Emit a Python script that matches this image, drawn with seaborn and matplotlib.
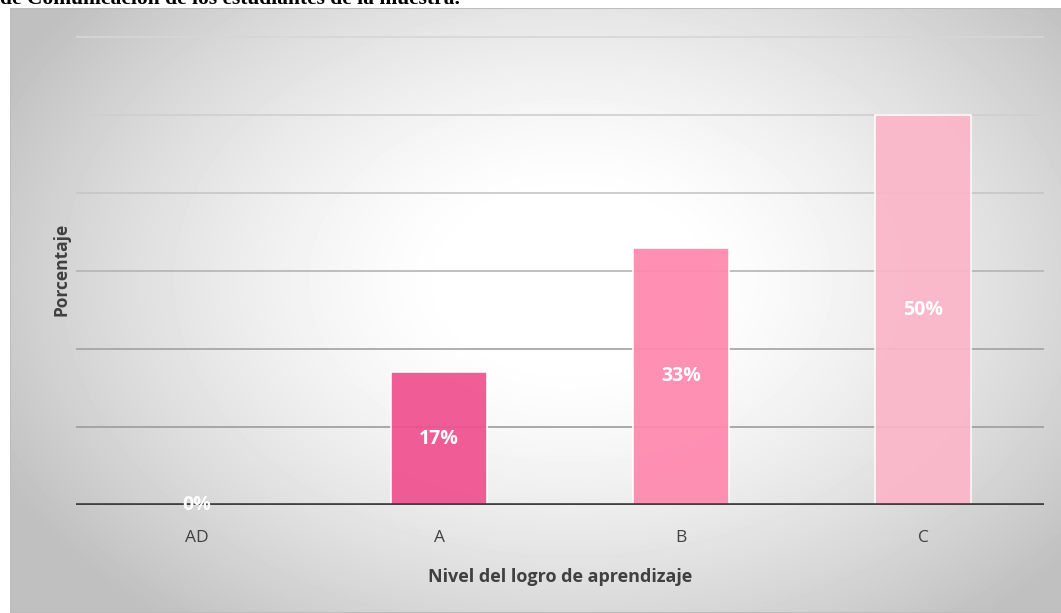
import numpy as np
import pandas as pd
import matplotlib
matplotlib.use("Agg")
import matplotlib.pyplot as plt
import seaborn as sns
from matplotlib.patches import Rectangle

# data
niveles = ["AD", "A", "B", "C"]
porcentajes = [0, 17, 33, 50]
etiquetas = ["0%", "17%", "33%", "50%"]
colores = ["#F0518F", "#F0518F", "#FF88AF", "#FBB6C9"]
y_ticks = [10, 20, 30, 40, 50, 60]
grid_colores = ["#9c9c9c", "#a2a2a2", "#b4b4b4", "#c6c6c6", "#cfcfcf", "#d6d6d6"]

titulo = "de Comunicación de los estudiantes de la muestra."

sns.set_style("white")
plt.rcParams["font.family"] = ["Open Sans", "DejaVu Sans"]

W, H = 1061, 613
fig = plt.figure(figsize=(W / 100, H / 100), dpi=100)
fig.patch.set_facecolor("white")

# radial grey-to-white background of the chart frame
bg = fig.add_axes([10 / W, 0, 1 - 10 / W, (H - 8) / H], zorder=0)
yy, xx = np.mgrid[8:H, 10:W]
r = np.sqrt(((xx - 570) / 620.0) ** 2 + ((yy - 280) / 430.0) ** 2)
t = np.clip((r - 0.18) / 0.85, 0, 1) ** 1.4
val = 1 - 0.25 * t
bg.imshow(val, cmap="gray", vmin=0, vmax=1, aspect="auto",
          extent=[0, 1, 0, 1], interpolation="bilinear")
bg.add_patch(Rectangle((0, 0), 1.2, 1, transform=bg.transAxes, fill=False,
                       edgecolor="#bdbdbd", lw=1.5))
bg.set_axis_off()

# main plot area (pixel box of the reference)
x0, x1 = 76, 1044
y_base, y_top = 505, 30
ax = fig.add_axes([x0 / W, 1 - y_base / H, (x1 - x0) / W, (y_base - y_top) / H], zorder=1)
ax.patch.set_alpha(0)

df = pd.DataFrame({"nivel": niveles, "pct": porcentajes})
sns.barplot(data=df, x="nivel", y="pct", hue="nivel", palette=colores,
            width=0.4, saturation=1, legend=False, ax=ax, zorder=3)
for p in ax.patches:
    p.set_alpha(0.93)
    p.set_edgecolor((1, 1, 1, 0.3))
    p.set_linewidth(1.2)

ax.set_xlim(-0.5, 3.5)
ax.set_ylim(0, (y_base - y_top) / 7.8)
ax.set_yticks(y_ticks)
ax.set_yticklabels([])
for gl_y, gc in zip(y_ticks, grid_colores):
    ax.axhline(gl_y, color=gc, lw=1.2, zorder=1)
ax.axhline(0, color="#404040", lw=3.4, zorder=4)

# percentage labels in the middle of each bar
for c, lab in zip(ax.containers, etiquetas):
    ax.bar_label(c, labels=[lab], label_type="center", color="white",
                 fontsize=14, fontweight="bold", zorder=5)

sns.despine(ax=ax, left=True, bottom=True)
ax.tick_params(axis="x", length=0, pad=18, labelsize=12.5, labelcolor="#404040")
ax.tick_params(axis="y", length=0)
ax.set_xlabel("Nivel del logro de aprendizaje", fontsize=13, fontweight="bold",
              color="#404040", labelpad=16)
ax.set_ylabel("Porcentaje", fontsize=12.5, fontweight="bold", color="#404040")
ax.yaxis.set_label_coords(-0.006, 0.495)

fig.text(0, 1 - 4 / H, titulo, ha="left", va="baseline",
         family=["Liberation Serif", "DejaVu Serif"], fontweight="bold",
         fontsize=15.5, color="black", zorder=0.5)

fig.savefig("out.png", dpi=100)
